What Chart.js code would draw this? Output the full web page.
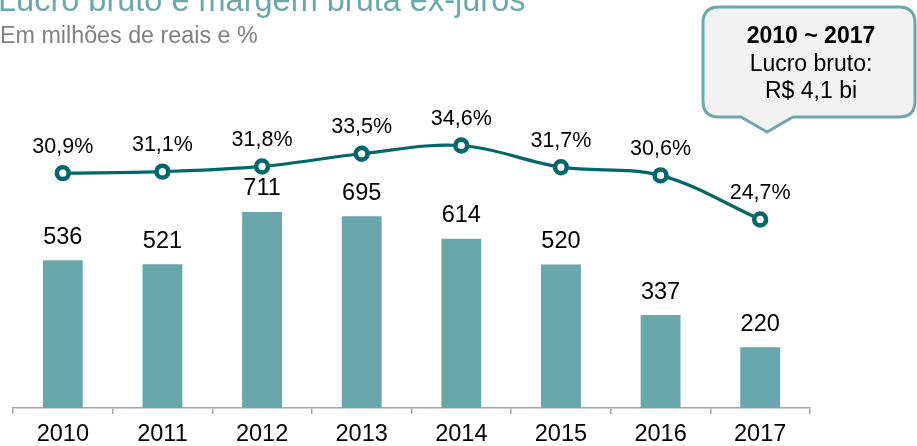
<!DOCTYPE html>
<html><head><meta charset="utf-8">
<script src="https://cdn.jsdelivr.net/npm/chart.js@4/dist/chart.umd.min.js"></script>
<style>
html,body{margin:0;padding:0;background:#fff;overflow:hidden;}
#wrap{position:relative;width:917px;height:446px;}
#title{position:absolute;left:-2px;top:-18px;font:32.5px "Liberation Sans",Arial,sans-serif;color:#6aa8aa;white-space:nowrap;line-height:1.15;}
#sub{position:absolute;left:0px;top:22px;font:23.3px "Liberation Sans",Arial,sans-serif;color:#808080;white-space:nowrap;line-height:1.15;}
canvas{position:absolute;left:0;top:0;}
</style></head>
<body><div id="wrap">
<canvas id="c" width="917" height="446"></canvas>
<div id="title">Lucro bruto e margem bruta ex-juros</div>
<div id="sub">Em milhões de reais e %</div>
</div>
<script>
const categories = ["2010","2011","2012","2013","2014","2015","2016","2017"];
const lucroBruto = [536, 521, 711, 695, 614, 520, 337, 220];
const margemBruta = [30.9, 31.1, 31.8, 33.5, 34.6, 31.7, 30.6, 24.7];
const marginLabels = ["30,9%","31,1%","31,8%","33,5%","34,6%","31,7%","30,6%","24,7%"];
const calloutLines = ["2010 ~ 2017", "Lucro bruto:", "R$ 4,1 bi"];

const FONT = '"Liberation Sans", Arial, sans-serif';
const BAR = '#68a7ab', LINE = '#00686a';

const labelsPlugin = {
  id: 'labels',
  afterDatasetsDraw(chart) {
    const ctx = chart.ctx;
    ctx.save();
    ctx.fillStyle = '#000';
    ctx.textAlign = 'center';
    ctx.textBaseline = 'middle';
    ctx.font = '23.5px ' + FONT;
    chart.getDatasetMeta(1).data.forEach((el, i) => {
      ctx.fillText(String(lucroBruto[i]), el.x, el.y - 23);
    });
    ctx.font = '21.5px ' + FONT;
    chart.getDatasetMeta(0).data.forEach((el, i) => {
      ctx.fillText(marginLabels[i], el.x, el.y - 26.5);
    });
    ctx.restore();
  }
};

const calloutPlugin = {
  id: 'callout',
  afterDraw(chart) {
    const ctx = chart.ctx;
    const x0 = 703, y0 = 7, x1 = 915, y1 = 117, r = 16;
    const px0 = 741, px1 = 793, tipX = 767, tipY = 132;
    ctx.save();
    ctx.beginPath();
    ctx.moveTo(x0 + r, y0);
    ctx.lineTo(x1 - r, y0);
    ctx.quadraticCurveTo(x1, y0, x1, y0 + r);
    ctx.lineTo(x1, y1 - r);
    ctx.quadraticCurveTo(x1, y1, x1 - r, y1);
    ctx.lineTo(px1, y1);
    ctx.lineTo(tipX, tipY);
    ctx.lineTo(px0, y1);
    ctx.lineTo(x0 + r, y1);
    ctx.quadraticCurveTo(x0, y1, x0, y1 - r);
    ctx.lineTo(x0, y0 + r);
    ctx.quadraticCurveTo(x0, y0, x0 + r, y0);
    ctx.closePath();
    ctx.fillStyle = '#f2f2f2';
    ctx.fill();
    ctx.lineWidth = 3;
    ctx.strokeStyle = '#6aa8aa';
    ctx.lineJoin = 'round';
    ctx.stroke();
    ctx.fillStyle = '#000';
    ctx.textAlign = 'center';
    ctx.textBaseline = 'middle';
    ctx.font = 'bold 23px ' + FONT;
    ctx.fillText(calloutLines[0], 811, 37);
    ctx.font = '23px ' + FONT;
    ctx.fillText(calloutLines[1], 811, 65);
    ctx.fillText(calloutLines[2], 811, 92);
    ctx.restore();
  }
};

new Chart(document.getElementById('c'), {
  data: {
    labels: categories,
    datasets: [
      {
        type: 'line', data: margemBruta, yAxisID: 'y2',
        borderColor: LINE, borderWidth: 3.2, tension: 0.35,
        pointRadius: 5.9, pointBorderWidth: 4.6, pointBackgroundColor: '#fff', pointBorderColor: LINE,
        order: 0
      },
      {
        type: 'bar', data: lucroBruto, yAxisID: 'y',
        backgroundColor: BAR, barPercentage: 0.8, categoryPercentage: 0.5,
        order: 1
      }
    ]
  },
  options: {
    responsive: false, animation: false,
    layout: { padding: { left: 13, right: 107, top: 60, bottom: -10 } },
    plugins: { legend: { display: false }, tooltip: { enabled: false } },
    scales: {
      x: {
        offset: true,
        grid: { display: true, offset: true, drawOnChartArea: false, drawTicks: true, tickLength: 6, color: '#a6a6a6', lineWidth: 1.5 },
        border: { display: true, color: '#a6a6a6', width: 1.5 },
        ticks: { color: '#000', font: { family: FONT, size: 23.5, lineHeight: 1.0 }, padding: 9.25 }
      },
      y: { display: false, min: 0, max: 1262 },
      y2: { display: false, min: -0.54, max: 46.05 }
    }
  },
  plugins: [labelsPlugin, calloutPlugin]
});
</script>
</body></html>
